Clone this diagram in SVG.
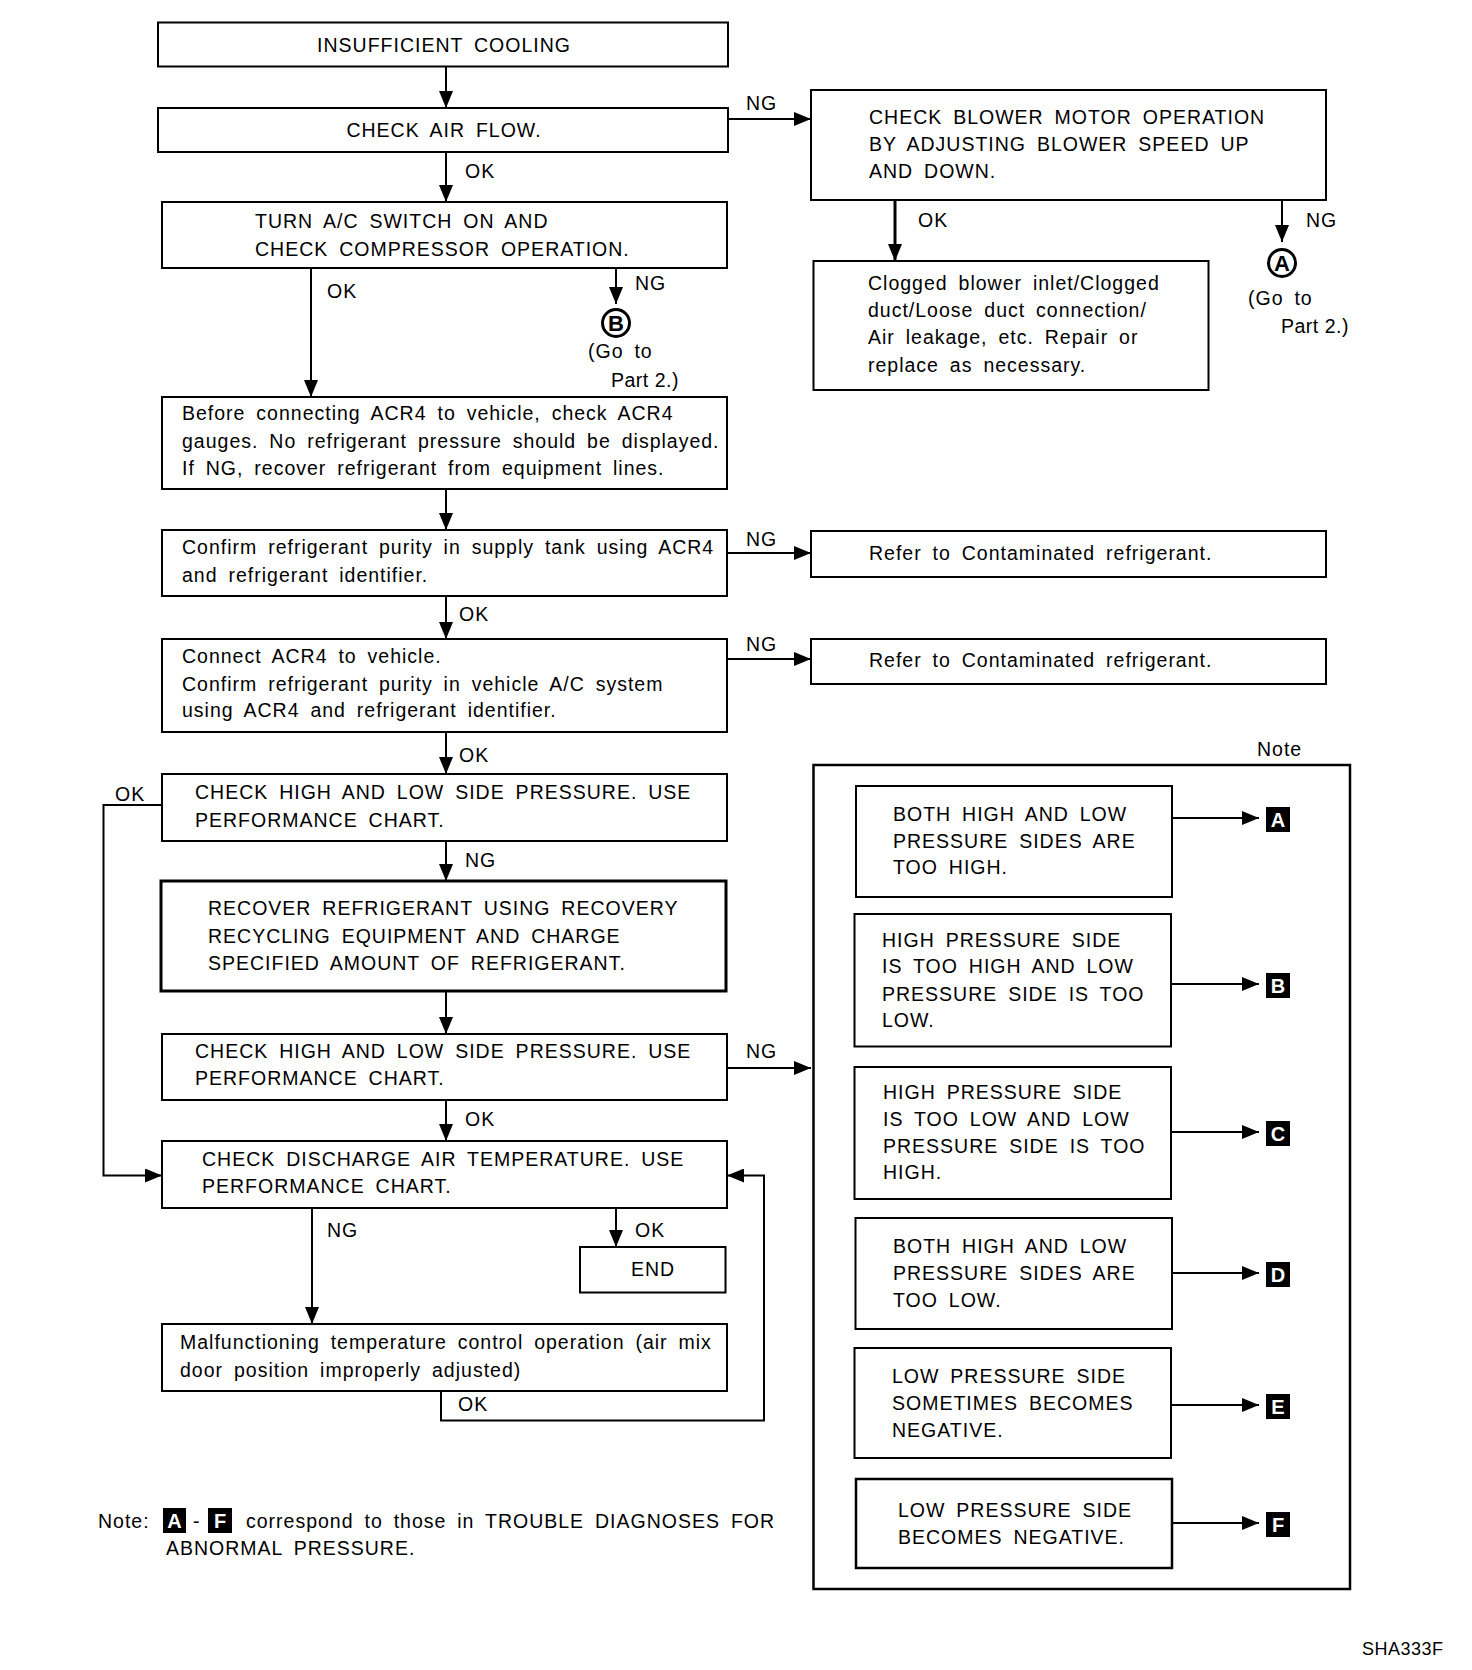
<svg xmlns="http://www.w3.org/2000/svg" width="1472" height="1670" viewBox="0 0 1472 1670">
<style>
text{font-family:"Liberation Sans",Arial,sans-serif;font-size:19.5px;letter-spacing:1px;word-spacing:4.5px;fill:#000}
.c{text-anchor:middle}
.box{fill:#fff;stroke:#000;stroke-width:2}
.thick{stroke-width:3}
.ln{fill:none;stroke:#000;stroke-width:2}
.arr{marker-end:url(#ah)}
.circ{fill:#fff;stroke:#000;stroke-width:3}
.cl{font-weight:bold;font-size:22px;text-anchor:middle;letter-spacing:0}
.tag{fill:#000}
.tl{fill:#fff;font-weight:bold;font-size:20px;text-anchor:middle;letter-spacing:0}
.code{font-size:18px;letter-spacing:0.5px}
.tight{word-spacing:0;letter-spacing:0.5px}
</style>
<defs>
<marker id="ah" markerUnits="userSpaceOnUse" markerWidth="17" markerHeight="14" refX="17" refY="7" orient="auto">
<path d="M0,0 L17,7 L0,14 z" fill="#000"/>
</marker>
</defs>
<rect width="1472" height="1670" fill="#fff"/>

<g id="n-insufficient">
<rect class="box" x="158" y="22.5" width="570" height="44"/>
<text class="c" x="444" y="52">INSUFFICIENT COOLING</text>
</g>
<g id="n-airflow">
<rect class="box" x="158" y="108" width="570" height="44"/>
<text class="c" x="444" y="137">CHECK AIR FLOW.</text>
</g>
<g id="n-blower">
<rect class="box" x="811" y="90" width="515" height="110"/>
<text x="869" y="124">CHECK BLOWER MOTOR OPERATION</text>
<text x="869" y="151">BY ADJUSTING BLOWER SPEED UP</text>
<text x="869" y="178">AND DOWN.</text>
</g>
<g id="n-compressor">
<rect class="box" x="162" y="202" width="565" height="66"/>
<text x="255" y="228">TURN A/C SWITCH ON AND</text>
<text x="255" y="256">CHECK COMPRESSOR OPERATION.</text>
</g>
<g id="n-gotoA">
<circle class="circ" cx="1282" cy="263" r="13.5"/>
<text class="cl" x="1282" y="271">A</text>
<text x="1248" y="305">(Go to</text>
<text class="tight" x="1281" y="333">Part 2.)</text>
</g>
<g id="n-clogged">
<rect class="box" x="813.5" y="261" width="395" height="129"/>
<text x="868" y="290">Clogged blower inlet/Clogged</text>
<text x="868" y="317">duct/Loose duct connection/</text>
<text x="868" y="344">Air leakage, etc. Repair or</text>
<text x="868" y="372">replace as necessary.</text>
</g>
<g id="n-gotoB">
<circle class="circ" cx="616" cy="323" r="13.5"/>
<text class="cl" x="616" y="331">B</text>
<text x="588" y="358">(Go to</text>
<text class="tight" x="611" y="387">Part 2.)</text>
</g>
<g id="n-before">
<rect class="box" x="162" y="397" width="565" height="92"/>
<text x="182" y="420">Before connecting ACR4 to vehicle, check ACR4</text>
<text x="182" y="448">gauges. No refrigerant pressure should be displayed.</text>
<text x="182" y="475">If NG, recover refrigerant from equipment lines.</text>
</g>
<g id="n-supply">
<rect class="box" x="162" y="530" width="565" height="66"/>
<text x="182" y="554">Confirm refrigerant purity in supply tank using ACR4</text>
<text x="182" y="582">and refrigerant identifier.</text>
</g>
<g id="n-refer1">
<rect class="box" x="811" y="531" width="515" height="46"/>
<text x="869" y="560">Refer to Contaminated refrigerant.</text>
</g>
<g id="n-connect">
<rect class="box" x="162" y="639" width="565" height="93"/>
<text x="182" y="663">Connect ACR4 to vehicle.</text>
<text x="182" y="691">Confirm refrigerant purity in vehicle A/C system</text>
<text x="182" y="717">using ACR4 and refrigerant identifier.</text>
</g>
<g id="n-refer2">
<rect class="box" x="811" y="639" width="515" height="45"/>
<text x="869" y="667">Refer to Contaminated refrigerant.</text>
</g>
<g id="n-pressure1">
<rect class="box" x="162" y="774" width="565" height="67"/>
<text x="195" y="799">CHECK HIGH AND LOW SIDE PRESSURE. USE</text>
<text x="195" y="827">PERFORMANCE CHART.</text>
</g>
<g id="n-recover">
<rect class="box thick" x="161" y="881" width="565" height="110"/>
<text x="208" y="915">RECOVER REFRIGERANT USING RECOVERY</text>
<text x="208" y="943">RECYCLING EQUIPMENT AND CHARGE</text>
<text x="208" y="970">SPECIFIED AMOUNT OF REFRIGERANT.</text>
</g>
<g id="n-pressure2">
<rect class="box" x="162" y="1034" width="565" height="66"/>
<text x="195" y="1058">CHECK HIGH AND LOW SIDE PRESSURE. USE</text>
<text x="195" y="1085">PERFORMANCE CHART.</text>
</g>
<g id="n-discharge">
<rect class="box" x="162" y="1141" width="565" height="67"/>
<text x="202" y="1166">CHECK DISCHARGE AIR TEMPERATURE. USE</text>
<text x="202" y="1193">PERFORMANCE CHART.</text>
</g>
<g id="n-end">
<rect class="box" x="580" y="1247" width="145.5" height="45.5"/>
<text class="c" x="653" y="1276">END</text>
</g>
<g id="n-malfunction">
<rect class="box" x="162" y="1324" width="565" height="67"/>
<text x="180" y="1349">Malfunctioning temperature control operation (air mix</text>
<text x="180" y="1377">door position improperly adjusted)</text>
</g>

<g id="n-note-panel">
<text x="1257" y="756">Note</text>
<rect class="box" x="813.5" y="765" width="536.5" height="824" style="stroke-width:2.5"/>
</g>
<g id="n-caseA">
<rect class="box" x="856" y="786" width="316" height="111"/>
<text x="893" y="821">BOTH HIGH AND LOW</text>
<text x="893" y="848">PRESSURE SIDES ARE</text>
<text x="893" y="874">TOO HIGH.</text>
<rect class="tag" x="1266" y="807" width="24" height="25"/>
<text class="tl" x="1278" y="827">A</text>
</g>
<g id="n-caseB">
<rect class="box" x="854.5" y="914" width="316.5" height="132.5"/>
<text x="882" y="947">HIGH PRESSURE SIDE</text>
<text x="882" y="973">IS TOO HIGH AND LOW</text>
<text x="882" y="1001">PRESSURE SIDE IS TOO</text>
<text x="882" y="1027">LOW.</text>
<rect class="tag" x="1266" y="973" width="24" height="25"/>
<text class="tl" x="1278" y="993">B</text>
</g>
<g id="n-caseC">
<rect class="box" x="854.5" y="1067" width="316.5" height="132"/>
<text x="883" y="1099">HIGH PRESSURE SIDE</text>
<text x="883" y="1126">IS TOO LOW AND LOW</text>
<text x="883" y="1153">PRESSURE SIDE IS TOO</text>
<text x="883" y="1179">HIGH.</text>
<rect class="tag" x="1266" y="1121" width="24" height="25"/>
<text class="tl" x="1278" y="1141">C</text>
</g>
<g id="n-caseD">
<rect class="box" x="855.5" y="1218" width="316.5" height="111"/>
<text x="893" y="1253">BOTH HIGH AND LOW</text>
<text x="893" y="1280">PRESSURE SIDES ARE</text>
<text x="893" y="1307">TOO LOW.</text>
<rect class="tag" x="1266" y="1262" width="24" height="25"/>
<text class="tl" x="1278" y="1282">D</text>
</g>
<g id="n-caseE">
<rect class="box" x="854.5" y="1348" width="316.5" height="110"/>
<text x="892" y="1383">LOW PRESSURE SIDE</text>
<text x="892" y="1410">SOMETIMES BECOMES</text>
<text x="892" y="1437">NEGATIVE.</text>
<rect class="tag" x="1266" y="1394" width="24" height="25"/>
<text class="tl" x="1278" y="1414">E</text>
</g>
<g id="n-caseF">
<rect class="box" x="856" y="1479" width="316" height="89" style="stroke-width:2.5"/>
<text x="898" y="1517">LOW PRESSURE SIDE</text>
<text x="898" y="1544">BECOMES NEGATIVE.</text>
<rect class="tag" x="1266" y="1512" width="24" height="25"/>
<text class="tl" x="1278" y="1532">F</text>
</g>

<g id="n-footnote">
<text x="98" y="1528">Note:</text>
<rect class="tag" x="163" y="1508" width="23" height="25"/>
<text class="tl" x="174.5" y="1528">A</text>
<text x="193" y="1528">-</text>
<rect class="tag" x="208" y="1508" width="24" height="25"/>
<text class="tl" x="220" y="1528">F</text>
<text x="246" y="1528">correspond to those in TROUBLE DIAGNOSES FOR</text>
<text x="166" y="1555">ABNORMAL PRESSURE.</text>
</g>
<g id="n-code">
<text class="code" x="1362" y="1655">SHA333F</text>
</g>

<g id="connectors">
<line class="ln arr" x1="446" y1="66.5" x2="446" y2="108"/>
<line class="ln arr" x1="728" y1="119" x2="811" y2="119"/>
<text x="746" y="110">NG</text>
<line class="ln arr" x1="446" y1="152" x2="446" y2="202"/>
<text x="465" y="178">OK</text>
<line class="ln arr" x1="895" y1="200" x2="895" y2="261" style="stroke-width:3"/>
<text x="918" y="227">OK</text>
<line class="ln arr" x1="1282" y1="200" x2="1282" y2="242"/>
<text x="1306" y="227">NG</text>
<line class="ln arr" x1="311" y1="268" x2="311" y2="397"/>
<text x="327" y="298">OK</text>
<line class="ln arr" x1="616" y1="268" x2="616" y2="304"/>
<text x="635" y="290">NG</text>
<line class="ln arr" x1="446" y1="489" x2="446" y2="530"/>
<line class="ln arr" x1="727" y1="553" x2="811" y2="553"/>
<text x="746" y="546">NG</text>
<line class="ln arr" x1="446" y1="596" x2="446" y2="639"/>
<text x="459" y="621">OK</text>
<line class="ln arr" x1="727" y1="659" x2="811" y2="659"/>
<text x="746" y="651">NG</text>
<line class="ln arr" x1="446" y1="732" x2="446" y2="774"/>
<text x="459" y="762">OK</text>
<polyline class="ln arr" points="162,805 103.5,805 103.5,1175.5 162,1175.5"/>
<text x="115" y="801">OK</text>
<line class="ln arr" x1="446" y1="841" x2="446" y2="881"/>
<text x="465" y="867">NG</text>
<line class="ln arr" x1="446" y1="991" x2="446" y2="1034"/>
<line class="ln arr" x1="727" y1="1068" x2="811" y2="1068"/>
<text x="746" y="1058">NG</text>
<line class="ln arr" x1="446" y1="1100" x2="446" y2="1141"/>
<text x="465" y="1126">OK</text>
<line class="ln arr" x1="312" y1="1208" x2="312" y2="1324"/>
<text x="327" y="1237">NG</text>
<line class="ln arr" x1="616" y1="1208" x2="616" y2="1247"/>
<text x="635" y="1237">OK</text>
<polyline class="ln arr" points="441,1391 441,1420.5 764,1420.5 764,1175.5 727,1175.5"/>
<text x="458" y="1411">OK</text>
<line class="ln arr" x1="1172" y1="818" x2="1259" y2="818"/>
<line class="ln arr" x1="1171" y1="984" x2="1259" y2="984"/>
<line class="ln arr" x1="1171" y1="1132" x2="1259" y2="1132"/>
<line class="ln arr" x1="1172" y1="1273" x2="1259" y2="1273"/>
<line class="ln arr" x1="1171" y1="1405" x2="1259" y2="1405"/>
<line class="ln arr" x1="1172" y1="1523" x2="1259" y2="1523"/>
</g>
</svg>
